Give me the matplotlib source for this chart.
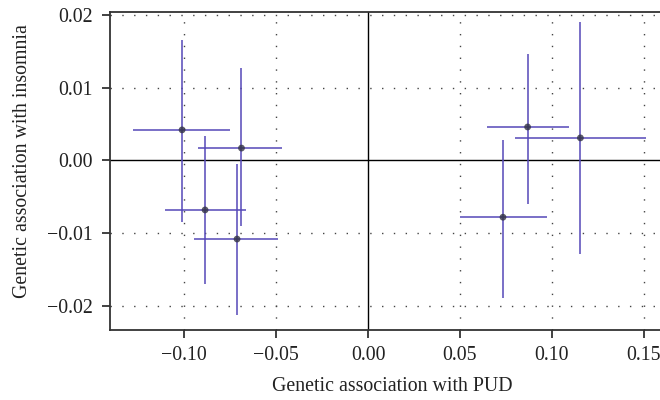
import matplotlib
matplotlib.use('Agg')
import matplotlib.pyplot as plt

# ── Data (SNP-level estimates with intervals) ─────────────────────────────────
beta_pud      = [-0.1011, -0.0688, -0.0886, -0.0712, 0.0868, 0.1155, 0.0734]
pud_low       = [-0.1278, -0.0924, -0.1102, -0.0944, 0.0647, 0.0801, 0.0500]
pud_high      = [-0.0752, -0.0465, -0.0661, -0.0489, 0.1095, 0.1510, 0.0973]
beta_insomnia = [0.0042, 0.0017, -0.0068, -0.0108, 0.0046, 0.0031, -0.0078]
ins_low       = [-0.0084, -0.0090, -0.0170, -0.0213, -0.0060, -0.0128, -0.0189]
ins_high      = [0.0166, 0.0127, 0.0034, -0.0005, 0.0146, 0.0190, 0.0028]

x_ticks = [-0.10, -0.05, 0.00, 0.05, 0.10, 0.15]
y_ticks = [-0.02, -0.01, 0.00, 0.01, 0.02]

plt.rcParams.update({
    'font.family': 'Liberation Serif',
    'font.size':   14.3,
    'text.color':  '#222222',
    'axes.labelcolor': '#222222',
    'xtick.labelcolor': '#222222',
    'ytick.labelcolor': '#222222',
})

LINE_COLOR = '#5548b8'
SPINE = '#333333'

fig = plt.figure(figsize=(6.6, 4.0), dpi=100)
# axes runs past the right edge of the figure, like the cropped original
ax = fig.add_axes([110 / 660, 70 / 400, 564 / 660, 318 / 400])

# grid: dotted at ticks, solid at zero
for xv in x_ticks:
    if xv == 0:
        ax.axvline(xv, color='black', lw=1.0, zorder=1)
    else:
        ax.axvline(xv, color='#444444', lw=1.0, ls=(0, (1, 7.5)), zorder=1)
for yv in y_ticks:
    if yv == 0:
        ax.axhline(yv, color='black', lw=1.0, zorder=1)
    else:
        ax.axhline(yv, color='#444444', lw=1.0, ls=(0, (1, 7.5)), zorder=1)

# error bars
ax.hlines(beta_insomnia, pud_low, pud_high, color=LINE_COLOR, lw=1.1, zorder=2)
ax.vlines(beta_pud, ins_low, ins_high, color=LINE_COLOR, lw=1.1, zorder=2)
ax.scatter(beta_pud, beta_insomnia, s=24, color='#333344', alpha=0.8,
           edgecolors='none', zorder=3)

ax.set_xlim(-0.1403, 0.1664)
ax.set_ylim(-0.0233, 0.0204)
ax.set_xticks(x_ticks)
ax.set_yticks(y_ticks)
ax.set_xticklabels([f'{v:.2f}'.replace('-', '\u2212') for v in x_ticks])
ax.set_yticklabels([f'{v:.2f}'.replace('-', '\u2212') for v in y_ticks])

for side in ['left', 'bottom', 'top', 'right']:
    ax.spines[side].set_color(SPINE)
    ax.spines[side].set_linewidth(1.3)
ax.tick_params(direction='out', length=5.5, width=1.3, color=SPINE)
ax.tick_params(axis='y', pad=7)
ax.tick_params(axis='x', pad=6)

ax.set_xlabel('Genetic association with PUD', labelpad=9)
ax.set_ylabel('Genetic association with insomnia')
ax.yaxis.set_label_coords(-0.138, 0.53)

fig.savefig('out.png', dpi=100)
